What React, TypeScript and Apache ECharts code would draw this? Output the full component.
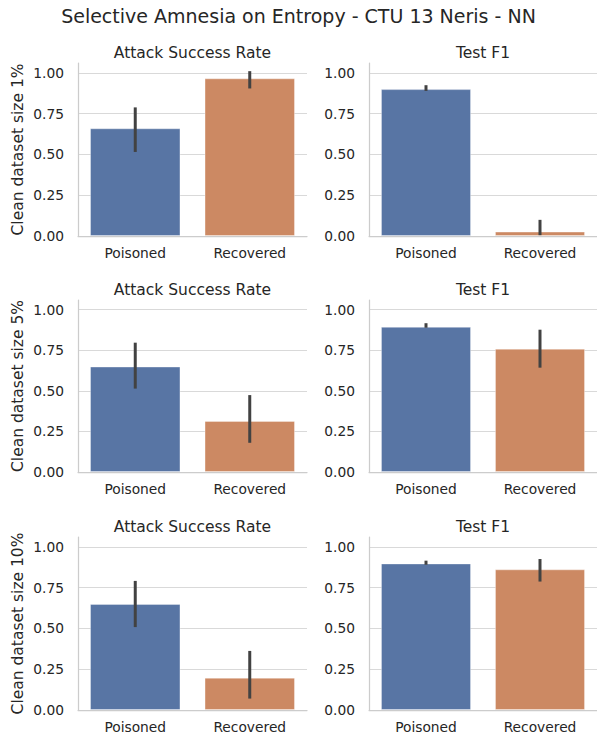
import React, { useEffect, useRef } from "react";
import * as echarts from "echarts";

const mainTitle = "Selective Amnesia on Entropy - CTU 13 Neris - NN";
const categories = ["Poisoned", "Recovered"];
const rowLabels = ["Clean dataset size 1%", "Clean dataset size 5%", "Clean dataset size 10%"];
const metricTitles = ["Attack Success Rate", "Test F1"];
const barColors = ["#5875A4", "#CC8963"];

// rows: 1%, 5%, 10% ; each: [Poisoned, Recovered]
const asrMean = [[0.66, 0.966], [0.65, 0.315], [0.65, 0.198]];
const asrLow = [[0.515, 0.904], [0.514, 0.18], [0.508, 0.07]];
const asrHigh = [[0.788, 1.01], [0.797, 0.474], [0.791, 0.362]];
const f1Mean = [[0.9, 0.027], [0.895, 0.76], [0.898, 0.862]];
const f1Low = [[0.889, 0.005], [0.889, 0.643], [0.89, 0.787]];
const f1High = [[0.924, 0.099], [0.917, 0.877], [0.915, 0.925]];

const yTicks = { min: 0, max: 1.06, interval: 0.25 };

const FONT = "DejaVu Sans";
const TEXT = "#262626";

export default function App() {
  const ref = useRef<HTMLDivElement>(null);
  useEffect(() => {
    if (!ref.current) return;
    const chart = echarts.init(ref.current, null, { renderer: "svg" });
    const colLeft = [78, 369];
    const colWidth = [229, 228];
    const rowTop = [63, 300, 537];
    const rowHeight = [173, 172, 173];
    const grids: any[] = [];
    const xAxes: any[] = [];
    const yAxes: any[] = [];
    const series: any[] = [];
    const titles: any[] = [
      {
        text: mainTitle,
        left: "center",
        top: 1,
        textStyle: { fontFamily: FONT, fontSize: 19, fontWeight: "normal", color: TEXT },
      },
    ];
    for (let r = 0; r < 3; r++) {
      for (let c = 0; c < 2; c++) {
        const idx = r * 2 + c;
        const mean = c === 0 ? asrMean[r] : f1Mean[r];
        const low = c === 0 ? asrLow[r] : f1Low[r];
        const high = c === 0 ? asrHigh[r] : f1High[r];
        grids.push({ left: colLeft[c], top: rowTop[r], width: colWidth[c], height: rowHeight[r] });
        titles.push({
          text: metricTitles[c],
          left: colLeft[c] + colWidth[c] / 2 - 5,
          textAlign: "center",
          top: rowTop[r] - 23,
          textStyle: { fontFamily: FONT, fontSize: 15.5, fontWeight: "normal", color: TEXT },
        });
        xAxes.push({
          type: "category",
          gridIndex: idx,
          data: categories,
          axisLine: { show: true, lineStyle: { color: "#cccccc", width: 1.25 } },
          axisTick: { show: false },
          axisLabel: { margin: 10, fontFamily: FONT, fontSize: 13.8, color: TEXT },
          splitLine: { show: false },
        });
        yAxes.push({
          type: "value",
          gridIndex: idx,
          min: yTicks.min,
          max: yTicks.max,
          interval: yTicks.interval,
          name: c === 0 ? rowLabels[r] : "",
          nameLocation: "middle",
          nameRotate: 90,
          nameGap: 52,
          nameTextStyle: { fontFamily: FONT, fontSize: 15.5, color: TEXT },
          axisLine: { show: true, lineStyle: { color: "#cccccc", width: 1.25 } },
          axisTick: { show: false },
          axisLabel: {
            margin: 14,
            fontFamily: FONT,
            fontSize: 13.8,
            color: TEXT,
            showMaxLabel: false,
            formatter: (v: number) => v.toFixed(2),
          },
          splitLine: { show: true, showMaxLine: false, lineStyle: { color: "#d9d9d9", width: 1 } },
        });
        series.push({
          type: "bar",
          xAxisIndex: idx,
          yAxisIndex: idx,
          barWidth: "79%",
          z: 2,
          data: mean.map((v, i) => ({
            value: v,
            itemStyle: { color: barColors[i], borderColor: "rgba(255,255,255,0.35)", borderWidth: 1 },
          })),
        });
        series.push({
          type: "custom",
          xAxisIndex: idx,
          yAxisIndex: idx,
          z: 3,
          clip: false,
          encode: { x: 0, y: [1, 2] },
          data: categories.map((_, i) => [i, low[i], high[i]]),
          renderItem: (params: any, api: any) => {
            const x = api.value(0);
            const p1 = api.coord([x, api.value(1)]);
            const p2 = api.coord([x, api.value(2)]);
            return {
              type: "line",
              shape: { x1: p1[0], y1: p1[1], x2: p2[0], y2: p2[1] },
              style: { stroke: "#424242", lineWidth: 3, lineCap: "butt" },
            };
          },
        });
      }
    }
    chart.setOption({
      animation: false,
      backgroundColor: "#ffffff",
      title: titles,
      grid: grids,
      xAxis: xAxes,
      yAxis: yAxes,
      series,
    });
    return () => chart.dispose();
  }, []);
  return (
    <div
      ref={ref}
      style={{ position: "absolute", left: 0, top: 0, width: 597, height: 736 }}
    />
  );
}
